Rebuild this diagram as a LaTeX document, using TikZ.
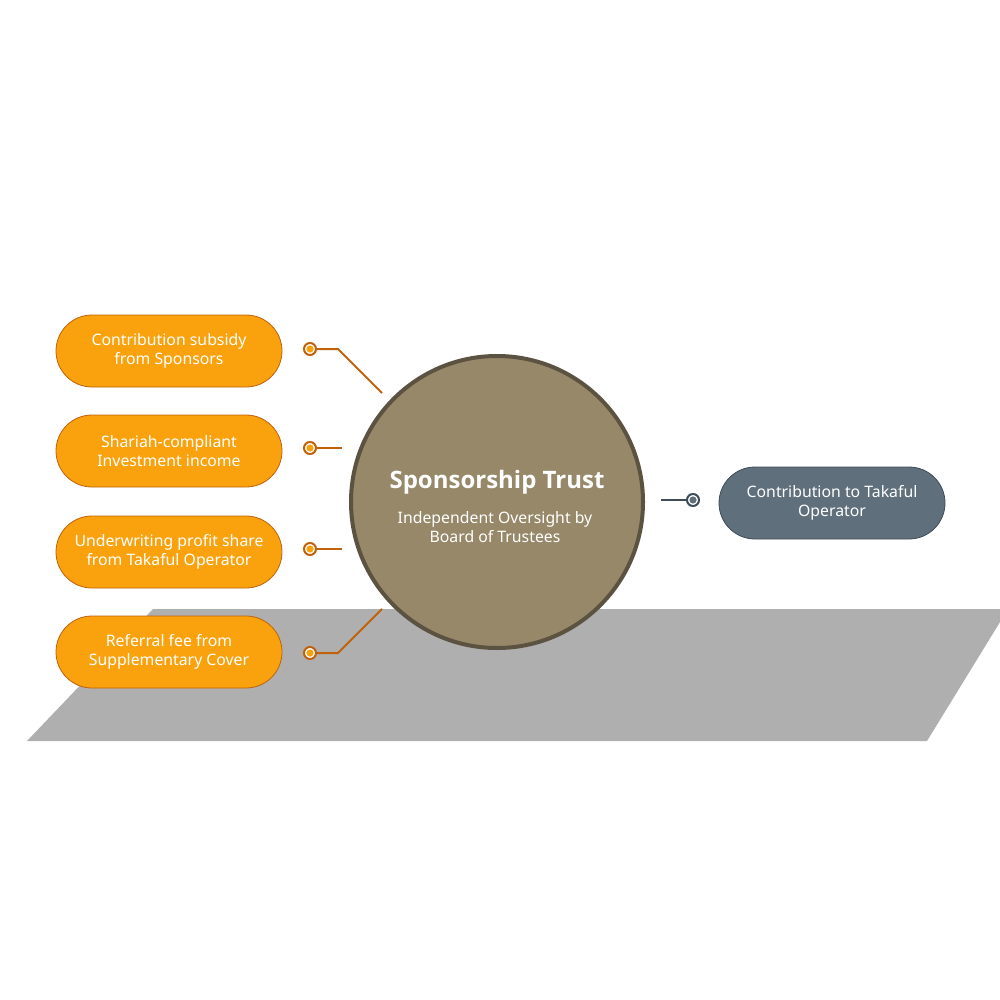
\documentclass[tikz,border=0pt]{standalone}
\usepackage{fontspec}
\setmainfont{Noto Sans}
\newfontfamily\titlefont{Open Sans}
\usetikzlibrary{shapes.misc}
\definecolor{pillor}{HTML}{F9A20D}
\definecolor{lineor}{HTML}{C0620C}
\definecolor{hub}{HTML}{968868}
\definecolor{hubline}{HTML}{5C5241}
\definecolor{floor}{HTML}{AFAFAF}
\definecolor{slate}{HTML}{5F6F7B}
\definecolor{slateline}{HTML}{3F4C57}
\begin{document}
\begin{tikzpicture}[x=1pt,y=-1pt,
  pill/.style={rounded rectangle, minimum width=226pt, minimum height=72pt, inner sep=0pt, text=white, font=\fontsize{15.8}{19}\selectfont, align=center},
  srcpill/.style={pill, fill=pillor, draw=lineor, line width=0.8pt},
  outpill/.style={pill, fill=slate, draw=slateline, line width=0.8pt},
  ring/.style={circle, minimum size=12pt, inner sep=0pt, line width=2pt, fill=white},
  conn/.style={line width=2pt}
]
\useasboundingbox (0,0) rectangle (1000,1000);
\clip (0,0) rectangle (1000,1000);
% floor
\fill[floor] (153,609) -- (1008,609) -- (927,741) -- (27,741) -- cycle;
% hub
\node[circle, minimum size=292pt, inner sep=0pt, fill=hub, draw=hubline, line width=4pt] (hub) at (497,502) {};
\node[text=white, font=\titlefont\fontsize{24}{28}\selectfont\bfseries] (title) at (497,482) {Sponsorship Trust};
\node[text=white, font=\fontsize{15.8}{19}\selectfont, align=center] (sub) at (495,527) {Independent Oversight by\\Board of Trustees};
% source pills
\node[srcpill] (p1) at (169,351) {Contribution subsidy\\from Sponsors};
\node[srcpill] (p2) at (169,451) {Shariah-compliant\\Investment income};
\node[srcpill] (p3) at (169,552) {Underwriting profit share\\from Takaful Operator};
\node[srcpill] (p4) at (169,652) {Referral fee from\\Supplementary Cover};
% output pill
\node[outpill] (out) at (832,503) {Contribution to Takaful\\Operator};
% connector end points
\coordinate (k1) at (338,349); \coordinate (e1) at (382,393);
\coordinate (e2) at (342,448);
\coordinate (e3) at (342,549);
\coordinate (k4) at (338,653); \coordinate (e4) at (382,609);
\coordinate (eo) at (661,500);
% markers
\node[ring, draw=lineor] (m1) at (310,349) {};
\node[ring, draw=lineor] (m2) at (310,448) {};
\node[ring, draw=lineor] (m3) at (310,549) {};
\node[ring, draw=lineor] (m4) at (310,653) {};
\node[ring, draw=slateline] (mo) at (693,500) {};
\draw[conn, lineor] (m1.east) -- (k1) -- (e1);
\draw[conn, lineor] (m2.east) -- (e2);
\draw[conn, lineor] (m3.east) -- (e3);
\draw[conn, lineor] (m4.east) -- (k4) -- (e4);
\draw[conn, slateline] (eo) -- (mo.west);
\foreach \m in {m1,m2,m3,m4} \fill[pillor] (\m) circle (3.6);
\fill[slate] (mo) circle (3.6);
\end{tikzpicture}
\end{document}
